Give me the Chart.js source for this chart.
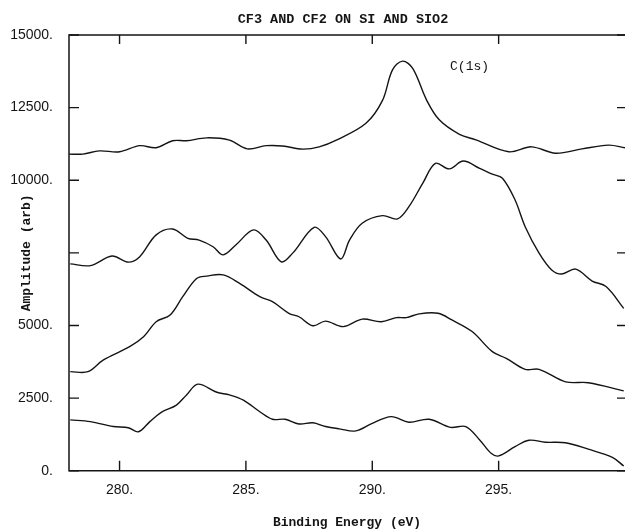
<!DOCTYPE html>
<html>
<head>
<meta charset="utf-8">
<script src="https://cdn.jsdelivr.net/npm/chart.js@4.4.0/dist/chart.umd.min.js"></script>
<style>
  html, body { margin: 0; padding: 0; background: #fff; }
  #wrap { width: 625px; height: 532px; }
</style>
</head>
<body>
<div id="wrap"><canvas id="grafica" width="625" height="532"></canvas></div>
<script>
// Espectros C(1s) (eV, amplitud arb.)
const energiaA = [278.0, 278.55, 279.2, 280.0, 280.8, 281.45, 282.1, 282.65, 283.45, 284.35, 285.05, 285.8, 286.45, 287.25, 287.9, 288.6, 289.75, 290.4, 290.8, 291.2, 291.6, 292.15, 292.65, 293.45, 294.1, 295.4, 296.3, 297.25, 298.3, 299.35, 300.0];
const senalA = [10900, 10900, 11010, 10980, 11190, 11120, 11360, 11360, 11460, 11380, 11080, 11190, 11180, 11070, 11150, 11390, 11960, 12740, 13800, 14100, 13850, 12760, 12080, 11580, 11390, 10980, 11150, 10930, 11080, 11210, 11120];

const energiaB = [278.05, 278.85, 279.7, 280.35, 280.8, 281.45, 282.1, 282.7, 283.15, 283.7, 284.1, 284.6, 285.3, 285.8, 286.4, 286.85, 287.7, 288.15, 288.75, 289.1, 289.6, 290.4, 291.0, 291.45, 292.0, 292.5, 293.05, 293.6, 294.25, 294.75, 295.15, 295.65, 296.05, 296.6, 297.1, 297.5, 298.05, 298.7, 299.25, 299.95];
const senalB = [7120, 7060, 7390, 7180, 7370, 8120, 8320, 8000, 7940, 7710, 7430, 7770, 8290, 7940, 7190, 7490, 8380, 8060, 7290, 7940, 8520, 8780, 8670, 9090, 9900, 10580, 10390, 10660, 10410, 10210, 10070, 9320, 8400, 7490, 6910, 6770, 6940, 6530, 6340, 5590];

const energiaC = [278.05, 278.75, 279.35, 280.4, 280.95, 281.45, 282.0, 282.5, 283.05, 283.45, 284.1, 284.75, 285.55, 286.05, 286.7, 287.1, 287.65, 288.15, 288.85, 289.6, 290.35, 290.95, 291.35, 291.85, 292.6, 293.15, 293.95, 294.75, 295.3, 296.05, 296.6, 297.65, 298.55, 299.95];
const senalC = [3410, 3410, 3810, 4270, 4610, 5130, 5360, 5990, 6620, 6700, 6740, 6450, 5990, 5820, 5420, 5300, 4990, 5150, 4960, 5220, 5130, 5270, 5270, 5400, 5420, 5190, 4790, 4100, 3870, 3490, 3490, 3060, 3030, 2750];

const energiaD = [278.05, 278.85, 279.75, 280.35, 280.75, 281.2, 281.65, 282.25, 282.65, 283.1, 283.85, 284.35, 284.9, 285.55, 286.05, 286.55, 287.1, 287.65, 288.15, 288.7, 289.35, 290.0, 290.75, 291.45, 292.25, 293.1, 293.7, 294.25, 294.7, 295.0, 295.65, 296.2, 296.85, 297.65, 298.55, 299.5, 299.95];
const senalD = [1750, 1690, 1520, 1480, 1340, 1690, 2010, 2260, 2610, 2980, 2700, 2610, 2430, 2030, 1770, 1770, 1610, 1650, 1520, 1440, 1370, 1630, 1860, 1670, 1770, 1490, 1520, 1060, 600, 510, 830, 1050, 980, 960, 740, 460, 160];

// Ejes
const valoresX = [280, 285, 290, 295];
const etiquetasX = ['280.', '285.', '290.', '295.'];
const valoresY = [0, 2500, 5000, 7500, 10000, 12500, 15000];
const etiquetasY = ['0.', '2500.', '5000.', '', '10000.', '12500.', '15000.'];

const titulo = 'CF3 AND CF2 ON SI AND SIO2';
const nota = 'C(1s)';
const notaPos = { x: 293.85, y: 13900 };

const tinta = '#141414';

function serie(xs, ys) {
    return xs.map((x, i) => ({ x: x, y: ys[i] }));
}

// Marco, ticks hacia adentro y textos extra
const marcoPlugin = {
    id: 'marco',
    afterDraw(chart) {
        const ctx = chart.ctx;
        const a = chart.chartArea;
        const sx = chart.scales.x;
        const sy = chart.scales.y;
        ctx.save();
        ctx.strokeStyle = tinta;
        ctx.lineWidth = 1.5;
        ctx.beginPath();
        ctx.moveTo(a.right, a.top);
        ctx.lineTo(a.left, a.top);
        ctx.lineTo(a.left, a.bottom);
        ctx.lineTo(a.right, a.bottom);
        ctx.stroke();

        ctx.lineWidth = 1.4;
        ctx.beginPath();
        valoresY.forEach(v => {
            const y = sy.getPixelForValue(v);
            ctx.moveTo(a.left, y); ctx.lineTo(a.left + 10, y);
            ctx.moveTo(a.right - 8, y); ctx.lineTo(a.right, y);
        });
        valoresX.forEach(v => {
            const x = sx.getPixelForValue(v);
            ctx.moveTo(x, a.bottom); ctx.lineTo(x, a.bottom - 10);
            ctx.moveTo(x, a.top); ctx.lineTo(x, a.top + 9);
        });
        ctx.stroke();

        ctx.fillStyle = tinta;
        ctx.textAlign = 'center';
        ctx.textBaseline = 'middle';
        ctx.font = 'bold 13.5px "Liberation Mono"';
        ctx.fillText(titulo, 343, 20);
        ctx.font = '13px "Liberation Mono"';
        ctx.fillText(nota, sx.getPixelForValue(notaPos.x), sy.getPixelForValue(notaPos.y));
        ctx.restore();
    }
};

const estiloLinea = {
    borderColor: tinta,
    borderWidth: 1.4,
    pointRadius: 0,
    fill: false,
    tension: 0.35
};

new Chart(document.getElementById('grafica').getContext('2d'), {
    type: 'line',
    data: {
        datasets: [
            Object.assign({ label: 'A', data: serie(energiaA, senalA) }, estiloLinea),
            Object.assign({ label: 'B', data: serie(energiaB, senalB) }, estiloLinea),
            Object.assign({ label: 'C', data: serie(energiaC, senalC) }, estiloLinea),
            Object.assign({ label: 'D', data: serie(energiaD, senalD) }, estiloLinea)
        ]
    },
    options: {
        responsive: false,
        animation: false,
        layout: { padding: { top: 35, right: 0, bottom: 0, left: 0 } },
        plugins: {
            legend: { display: false },
            tooltip: { enabled: false },
            title: { display: false }
        },
        scales: {
            x: {
                type: 'linear',
                min: 278,
                max: 300,
                afterBuildTicks: s => { s.ticks = valoresX.map(v => ({ value: v })); },
                afterFit: s => { s.height = 61.3; },
                grid: { display: false, drawTicks: false },
                border: { display: false },
                ticks: {
                    color: tinta,
                    padding: 11,
                    maxRotation: 0,
                    font: { family: '"Liberation Sans", Arial, sans-serif', size: 14 },
                    callback: (v, i) => etiquetasX[i]
                },
                title: {
                    display: true,
                    text: 'Binding Energy (eV)',
                    color: tinta,
                    font: { family: '"Liberation Mono", monospace', size: 13, weight: 'bold' },
                    padding: { top: 0, bottom: 1 }
                }
            },
            y: {
                min: 0,
                max: 15000,
                afterBuildTicks: s => { s.ticks = valoresY.map(v => ({ value: v })); },
                afterFit: s => { s.width = 69; },
                grid: { display: false, drawTicks: false },
                border: { display: false },
                ticks: {
                    color: tinta,
                    padding: 16,
                    font: { family: '"Liberation Sans", Arial, sans-serif', size: 14 },
                    callback: (v, i) => etiquetasY[i]
                },
                title: {
                    display: true,
                    text: 'Amplitude (arb)',
                    color: tinta,
                    font: { family: '"Liberation Mono", monospace', size: 13, weight: 'bold' },
                    padding: { top: 19, bottom: 0 }
                }
            }
        }
    },
    plugins: [marcoPlugin]
});
</script>
</body>
</html>
